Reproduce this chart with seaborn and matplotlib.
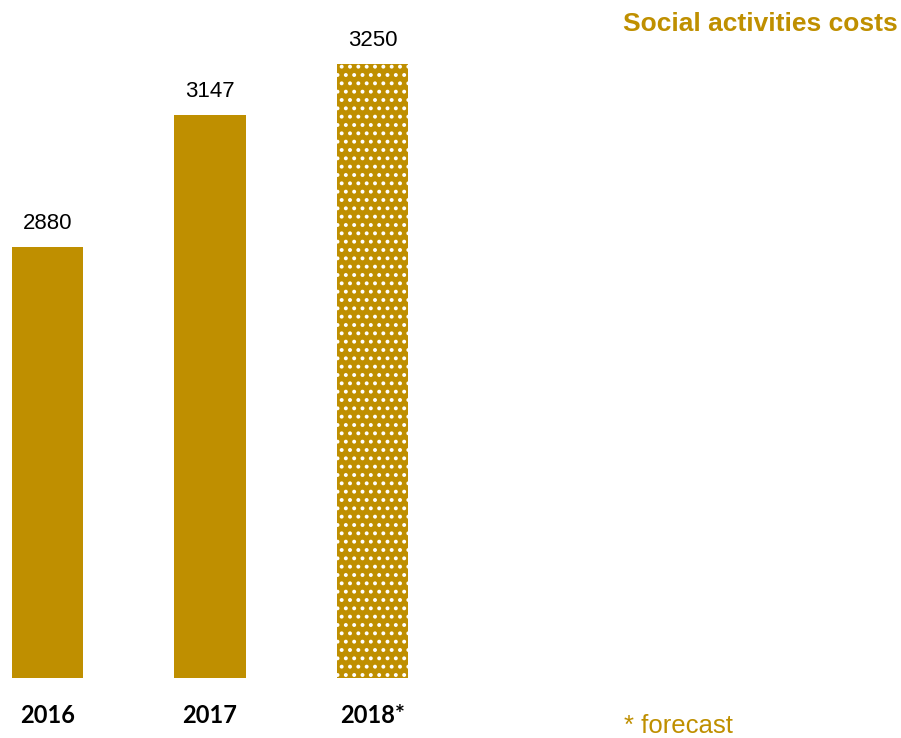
import matplotlib
matplotlib.use("Agg")
import matplotlib.pyplot as plt
import seaborn as sns
import pandas as pd

years = ["2016", "2017", "2018*"]
costs = [2880, 3147, 3250]
forecast_flags = [False, False, True]

title = "Social activities costs"
footnote = "* forecast"

gold = "#BF8F00"

sns.set_style("white")
plt.rcParams["font.family"] = ["Liberation Sans", "DejaVu Sans"]
plt.rcParams["hatch.color"] = "white"
plt.rcParams["hatch.linewidth"] = 1.6

W, H, DPI = 901, 738, 100
fig = plt.figure(figsize=(W / DPI, H / DPI), dpi=DPI)

# axis occupies the area above the category labels
bottom_px = 678
ax = fig.add_axes([0, (H - bottom_px) / H, 1, bottom_px / H])

df = pd.DataFrame({"year": years, "cost": costs})
sns.barplot(data=df, x="year", y="cost", color=gold, saturation=1,
            width=0.437, ax=ax, errorbar=None)

# forecast bar gets a dotted fill
for patch, is_fc in zip(ax.patches, forecast_flags):
    patch.set_linewidth(0)
    if is_fc:
        patch.set_edgecolor("white")
        patch.set_hatch("..")

ax.set_xlim(-0.2923, 5.2523)
ax.set_ylim(2008.6, 3379.4)

for i, v in enumerate(costs):
    ax.annotate(f"{v}", xy=(i, v), xytext=(0, 13), textcoords="offset points",
                ha="center", va="baseline", fontsize=16, color="black")

ax.set_xlabel("")
ax.set_ylabel("")
ax.set_yticks([])
ax.tick_params(axis="x", length=0, pad=19)
for lbl in ax.get_xticklabels():
    lbl.set_fontfamily(["Lato", "DejaVu Sans"])
    lbl.set_fontweight("bold")
    lbl.set_fontsize(17)
    lbl.set_color("black")
for s in ax.spines.values():
    s.set_visible(False)

fig.text(898 / W, 1 - 24 / H, title, ha="right", va="center",
         fontsize=19, fontweight="bold", color=gold)
fig.text(624 / W, 1 - 733 / H, footnote, ha="left", va="baseline",
         fontsize=18.5, color=gold)

fig.savefig("out.png", dpi=DPI, facecolor="white")
